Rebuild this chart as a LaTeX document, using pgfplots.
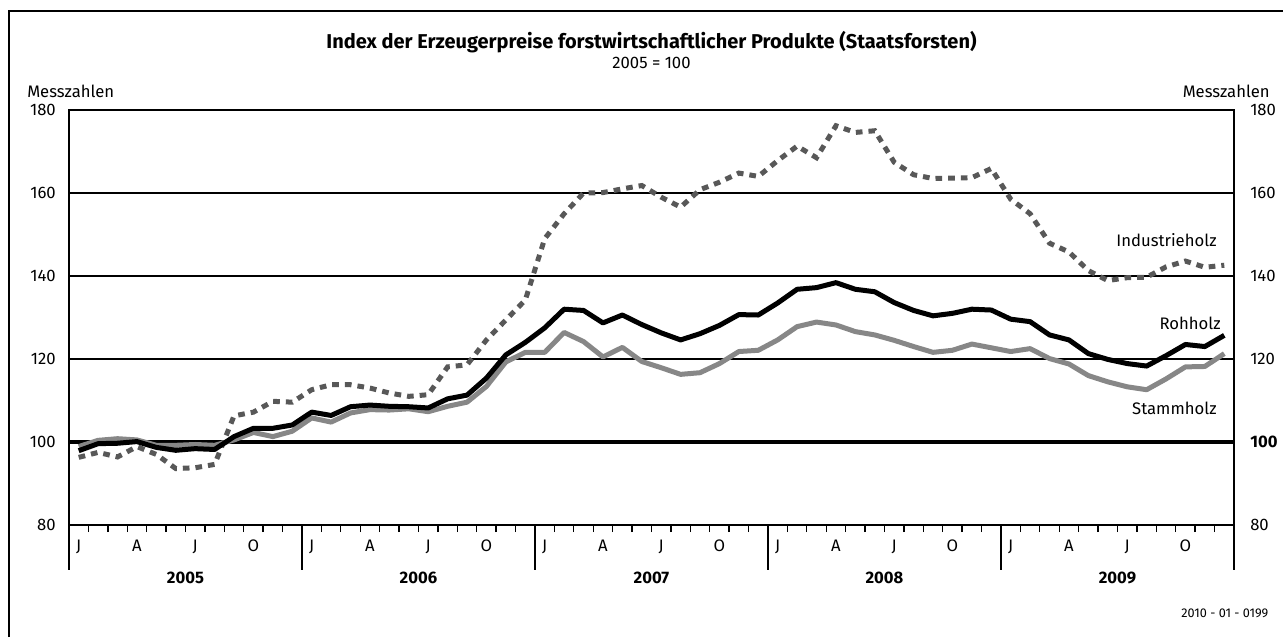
\documentclass[border=0pt]{standalone}
\usepackage{fontspec}
\setmainfont{Fira Sans}
\usepackage{pgfplots}
\usepackage{pgfplotstable}
\pgfplotsset{compat=1.18}
\definecolor{stammc}{RGB}{135,135,135}
\definecolor{induc}{RGB}{88,88,88}

\pgfplotstableread{
m roh stamm indu
0.5 97.9 98.9 96.3
1.5 99.6 100.4 97.5
2.5 99.7 100.8 96.4
3.5 100.1 100.5 98.9
4.5 98.7 99.2 97.0
5.5 98.0 99.2 93.6
6.5 98.4 99.4 93.8
7.5 98.2 99.2 94.6
8.5 101.3 100.5 106.3
9.5 103.3 102.3 107.2
10.5 103.3 101.3 109.8
11.5 104.1 102.6 109.6
12.5 107.2 105.8 112.6
13.5 106.4 104.8 113.8
14.5 108.5 107.0 113.8
15.5 108.9 107.8 113.0
16.5 108.6 107.7 111.8
17.5 108.5 108.0 111.0
18.5 108.2 107.3 111.4
19.5 110.4 108.6 118.1
20.5 111.3 109.6 118.6
21.5 115.4 113.4 124.6
22.5 121.0 119.3 129.4
23.5 124.0 121.6 134.2
24.5 127.5 121.6 149.0
25.5 132.0 126.4 155.0
26.5 131.7 124.2 160.0
27.5 128.7 120.5 160.1
28.5 130.6 122.8 161.0
29.5 128.3 119.4 161.8
30.5 126.3 117.9 159.0
31.5 124.6 116.3 156.6
32.5 126.1 116.7 160.8
33.5 128.1 118.9 162.6
34.5 130.7 121.8 164.8
35.5 130.6 122.1 164.0
36.5 133.5 124.6 167.8
37.5 136.8 127.8 171.3
38.5 137.2 128.9 168.5
39.5 138.4 128.2 176.2
40.5 136.8 126.6 174.6
41.5 136.2 125.8 175.0
42.5 133.6 124.5 167.4
43.5 131.7 123.0 164.4
44.5 130.4 121.6 163.5
45.5 131.0 122.1 163.6
46.5 132.0 123.6 163.7
47.5 131.8 122.7 165.9
48.5 129.6 121.8 158.5
49.5 129.0 122.5 155.0
50.5 125.8 120.1 147.9
51.5 124.6 118.8 145.8
52.5 121.3 116.0 141.3
53.5 119.9 114.5 138.9
54.5 118.9 113.3 139.6
55.5 118.3 112.6 139.7
56.5 120.8 115.2 142.2
57.5 123.5 118.1 143.6
58.5 123.0 118.2 142.1
59.5 125.7 121.3 142.6
}\data

\begin{document}
\begin{tikzpicture}
\useasboundingbox (-51.75pt,-84pt) rectangle (910.5pt,393.75pt);
\draw[line width=1.5pt] (-45pt,-84pt) -- (-45pt,385.5pt) -- (910.5pt,385.5pt);
\begin{axis}[
  at={(0,0)}, anchor=south west, scale only axis,
  width=873.75pt, height=311.25pt,
  xmin=0, xmax=60, ymin=80, ymax=180,
  clip=false,
  axis line style={line width=1.8pt},
  font=\fontsize{12.5}{14}\selectfont,
  /pgf/number format/assume math mode=true,
  ytick={80,100,...,180},
  yticklabels={80,100,120,140,160,180},
  ymajorgrids, grid style={line width=1.1pt, black},
  major tick length=0pt,
  minor tick length=5.25pt,
  tick align=outside,
  xtick pos=left,
  xtick={0.5,3.5,6.5,9.5,12.5,15.5,18.5,21.5,24.5,27.5,30.5,33.5,36.5,39.5,42.5,45.5,48.5,51.5,54.5,57.5},
  xticklabels={J,A,J,O,J,A,J,O,J,A,J,O,J,A,J,O,J,A,J,O},
  minor xtick={0,1,...,60},
  xminorgrids=false,
  minor tick style={line width=1pt, black},
  major tick style={draw=none},
  xticklabel style={anchor=base, yshift=-19.5pt},
  yticklabel style={inner sep=0pt, anchor=east, xshift=-9.75pt},
]
\draw[line width=2.6pt] (axis cs:0,100) -- (axis cs:60,100);
\addplot[induc, line width=3.75pt, dash pattern=on 5pt off 4.5pt] table[x=m, y=indu] {\data};
\addplot[stammc, line width=3.75pt, line join=round] table[x=m, y=stamm] {\data};
\addplot[black, line width=3.75pt, line join=round] table[x=m, y=roh] {\data};
\pgfplotsinvokeforeach{0,12,24,36,48,60}{
  \draw[line width=1.2pt] (axis cs:#1,80) -- ([yshift=-33.75pt]axis cs:#1,80);
}
\node[anchor=base, font=\fontsize{12.5}{14}\selectfont\bfseries] at (axis cs:6,80) [yshift=-44pt] {2005};
\node[anchor=base, font=\fontsize{12.5}{14}\selectfont\bfseries] at (axis cs:18,80) [yshift=-44pt] {2006};
\node[anchor=base, font=\fontsize{12.5}{14}\selectfont\bfseries] at (axis cs:30,80) [yshift=-44pt] {2007};
\node[anchor=base, font=\fontsize{12.5}{14}\selectfont\bfseries] at (axis cs:42,80) [yshift=-44pt] {2008};
\node[anchor=base, font=\fontsize{12.5}{14}\selectfont\bfseries] at (axis cs:54,80) [yshift=-44pt] {2009};
\node[anchor=east, inner sep=0pt, font=\fontsize{12.5}{14}\selectfont] at (axis cs:59.12,148.7) {Industrieholz};
\node[anchor=east, inner sep=0pt, font=\fontsize{12.5}{14}\selectfont] at (axis cs:59.33,128.7) {Rohholz};
\node[anchor=east, inner sep=0pt, font=\fontsize{12.5}{14}\selectfont] at (axis cs:59.12,108.2) {Stammholz};
\node[anchor=base, font=\fontsize{15}{17}\selectfont\bfseries] at (axis cs:30,180) [yshift=46.5pt] {Index der Erzeugerpreise forstwirtschaftlicher Produkte (Staatsforsten)};
\node[anchor=base, font=\fontsize{12.5}{14}\selectfont] at (axis cs:30,180) [yshift=31.5pt] {2005 = 100};
\node[anchor=base west, inner sep=0pt, font=\fontsize{12.5}{14}\selectfont] at (axis cs:0,180) [xshift=-31.5pt, yshift=9.75pt] {Messzahlen};
\node[anchor=base east, inner sep=0pt, font=\fontsize{12.5}{14}\selectfont] at (axis cs:60,180) [xshift=27pt, yshift=9.75pt] {Messzahlen};
\node[anchor=base east, inner sep=0pt, font=\fontsize{9.5}{11}\selectfont] at (axis cs:60,80) [xshift=26pt, yshift=-69.5pt] {2010 - 01 - 0199};
\end{axis}
\begin{axis}[
  at={(0,0)}, anchor=south west, scale only axis,
  width=873.75pt, height=311.25pt,
  xmin=0, xmax=60, ymin=80, ymax=180,
  axis y line*=right, axis x line=none,
  axis line style={line width=1.8pt},
  font=\fontsize{12.5}{14}\selectfont,
  /pgf/number format/assume math mode=true,
  ytick={80,100,...,180},
  yticklabels={80,\textbf{100},120,140,160,180},
  major tick length=0pt, major tick style={draw=none},
  yticklabel style={inner sep=0pt, anchor=west, xshift=12pt},
]
\end{axis}
\end{tikzpicture}
\end{document}
